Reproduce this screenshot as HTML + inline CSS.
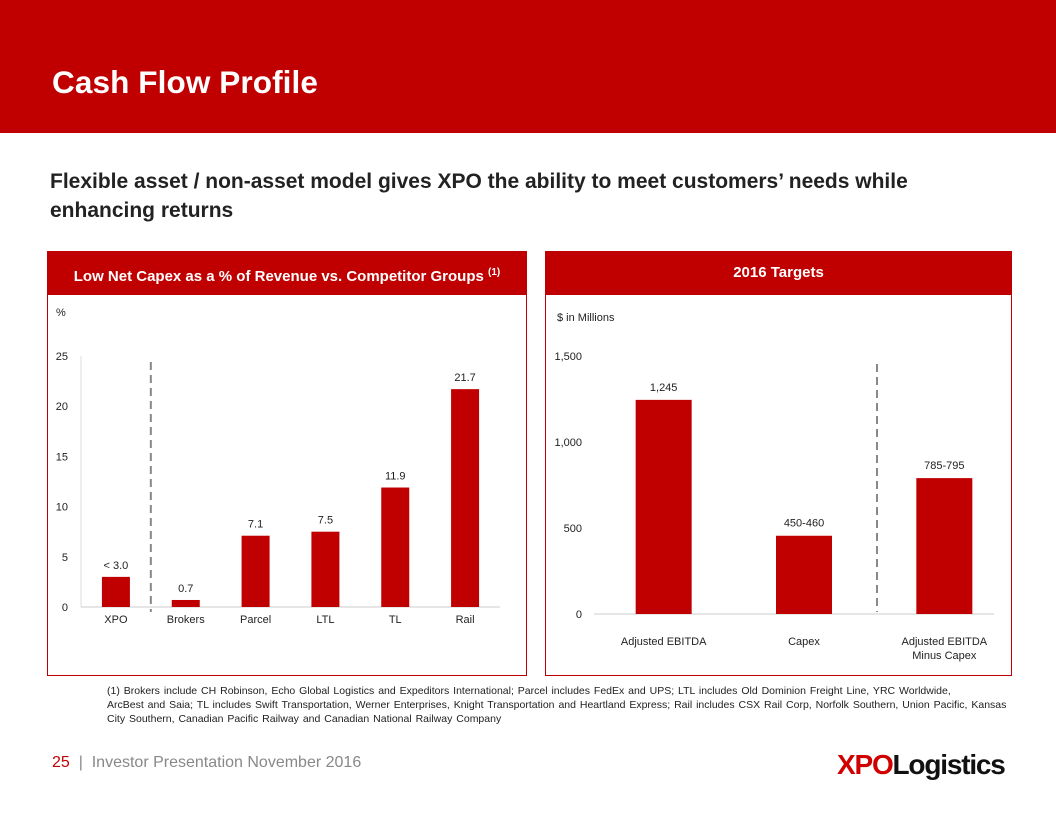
<!DOCTYPE html>
<html><head><meta charset="utf-8"><style>
body{margin:0;width:1056px;height:816px;position:relative;background:#fff;font-family:"Liberation Sans",sans-serif;overflow:hidden}
.abs{position:absolute}
</style></head><body>
<div class="abs" style="left:0;top:0;width:1056px;height:133px;background:#c00000"></div>
<div class="abs" style="left:52px;top:64px;color:#fff;font-size:31.5px;font-weight:bold;letter-spacing:0.1px">Cash Flow Profile</div>
<div class="abs" style="left:50px;top:167px;width:960px;color:#222;font-size:21px;font-weight:bold;line-height:29px">Flexible asset / non-asset model gives XPO the ability to meet customers’ needs while enhancing returns</div>
<div class="abs" style="left:47px;top:251px;width:478px;height:423px;border:1px solid #c00000"></div>
<div class="abs" style="left:47px;top:251px;width:480px;height:44px;background:#c00000;color:#fff;font-size:15px;font-weight:bold;text-align:center;line-height:44px">Low Net Capex as a % of Revenue vs. Competitor Groups <sup style="font-size:10px">(1)</sup></div>
<div class="abs" style="left:545px;top:251px;width:465px;height:423px;border:1px solid #c00000"></div>
<div class="abs" style="left:545px;top:251px;width:467px;height:44px;background:#c00000;color:#fff;font-size:15px;font-weight:bold;text-align:center;line-height:44px">2016 Targets</div>
<svg class="abs" style="left:0;top:0" width="1056" height="816" id="svg"></svg>
<div class="abs" style="left:107px;top:684px;width:905px;font-size:10.5px;line-height:14px;color:#222;word-spacing:1px">(1) Brokers include CH Robinson, Echo Global Logistics and Expeditors International; Parcel includes FedEx and UPS; LTL includes Old Dominion Freight Line, YRC Worldwide,<br>ArcBest and Saia; TL includes Swift Transportation, Werner Enterprises, Knight Transportation and Heartland Express; Rail includes CSX Rail Corp, Norfolk Southern, Union Pacific, Kansas<br>City Southern, Canadian Pacific Railway and Canadian National Railway Company</div>
<div class="abs" style="left:52px;top:754px;font-size:16px;color:#888"><span style="color:#c00000">25</span> &nbsp;| &nbsp;Investor Presentation November 2016</div>
<div class="abs" style="left:837px;top:749px;font-size:28px;font-weight:bold;letter-spacing:-1.2px"><span style="color:#d00000">XPO</span><span style="color:#111">Logistics</span></div>
<script>
const leftCats=["XPO","Brokers","Parcel","LTL","TL","Rail"];
const leftVals=[3.0,0.7,7.1,7.5,11.9,21.7];
const leftLabels=["< 3.0","0.7","7.1","7.5","11.9","21.7"];
const leftTicks=[0,5,10,15,20,25];
const rightCats=[["Adjusted EBITDA"],["Capex"],["Adjusted EBITDA","Minus Capex"]];
const rightVals=[1245,455,790];
const rightLabels=["1,245","450-460","785-795"];
const rightTicks=[0,500,1000,1500];
const svg=document.getElementById('svg');
const NS="http://www.w3.org/2000/svg";
function mk(t,a,txt){const e=document.createElementNS(NS,t);for(const k in a)e.setAttribute(k,a[k]);if(txt!=null)e.textContent=txt;svg.appendChild(e);return e;}
const lx0=81,lx1=500,ly0=607,ly1=356,lmax=25;
const ly=v=>ly0-(v/lmax)*(ly0-ly1);
const lstep=(lx1-lx0)/leftCats.length;
let e;
e=mk('line',{x1:lx0,y1:ly1,x2:lx0,y2:ly0,stroke:'#ddd'});

e=mk('line',{x1:lx0,y1:ly0,x2:lx1,y2:ly0,stroke:'#ccc'});

e=mk('text',{x:56,y:316,'font-size':11,fill:'#222'},'%');

leftTicks.forEach(t=>{e=mk('text',{x:68,y:ly(t)+4,'font-size':11,fill:'#222','text-anchor':'end'},t);
});
leftCats.forEach((c,i)=>{const cx=lx0+lstep*(i+0.5);
e=mk('rect',{x:cx-14,y:ly(leftVals[i]),width:28,height:ly0-ly(leftVals[i]),fill:'#c00000'});

e=mk('text',{x:cx,y:ly(leftVals[i])-8,'font-size':11,fill:'#222','text-anchor':'middle'},leftLabels[i]);

e=mk('text',{x:cx,y:623,'font-size':11,fill:'#222','text-anchor':'middle'},c);
});
e=mk('line',{x1:lx0+lstep,y1:362,x2:lx0+lstep,y2:612,stroke:'#888','stroke-width':2,'stroke-dasharray':'8,5'});

const rx0=594,rx1=994,ry0=614,ry1=356,rmax=1500;
const ry=v=>ry0-(v/rmax)*(ry0-ry1);
const rstep=(rx1-rx0)/rightCats.length;
e=mk('line',{x1:rx0,y1:ry0,x2:rx1,y2:ry0,stroke:'#ccc'});

e=mk('text',{x:557,y:321,'font-size':11,fill:'#222'},'$ in Millions');

rightTicks.forEach(t=>{e=mk('text',{x:582,y:ry(t)+4,'font-size':11,fill:'#222','text-anchor':'end'},t.toLocaleString('en-US'));
});
rightCats.forEach((c,i)=>{const cx=rx0+rstep*(i+0.5)+(i-1)*7+10;
e=mk('rect',{x:cx-28,y:ry(rightVals[i]),width:56,height:ry0-ry(rightVals[i]),fill:'#c00000'});

e=mk('text',{x:cx,y:ry(rightVals[i])-9,'font-size':11,fill:'#222','text-anchor':'middle'},rightLabels[i]);

c.forEach((ln,j)=>{e=mk('text',{x:cx,y:645+j*14,'font-size':11,fill:'#222','text-anchor':'middle'},ln);
});});
e=mk('line',{x1:877,y1:364,x2:877,y2:612,stroke:'#888','stroke-width':2,'stroke-dasharray':'8,5'});

</script>
</body></html>
